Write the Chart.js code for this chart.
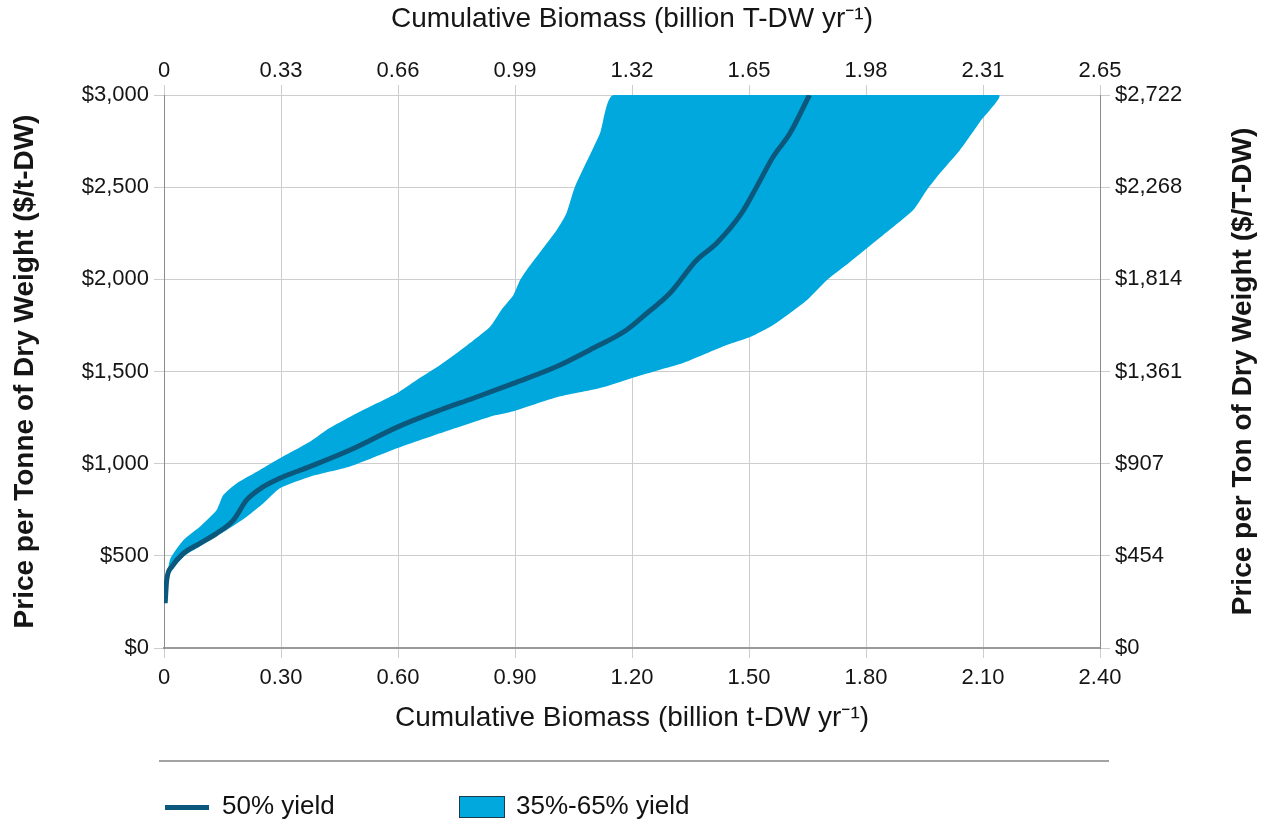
<!DOCTYPE html>
<html>
<head>
<meta charset="utf-8">
<script src="https://cdn.jsdelivr.net/npm/chart.js@4.4.1/dist/chart.umd.min.js"></script>
<style>
  html, body { margin: 0; padding: 0; background: #fff; }
  #wrap { position: relative; width: 1269px; height: 824px; }
  #chart { position: absolute; left: 0; top: 0; }
  .sep { position: absolute; left: 159px; top: 760px; width: 950px; border-top: 2px solid #a3a3a3; }
  .legend { position: absolute; top: 790px; height: 30px; line-height: 30px;
            font: 26px 'Liberation Sans', Arial, sans-serif; color: #111; white-space: nowrap; }
  .swatch-line { display: inline-block; width: 44px; height: 5px; background: #0c587c; vertical-align: middle; margin-right: 13px; }
  .swatch-box { display: inline-block; width: 44px; height: 20px; background: #00a8dd; border: 1px solid #1b3c4c; vertical-align: middle; margin-right: 11px; }
</style>
</head>
<body>
<div id="wrap">
  <canvas id="chart" width="1269" height="824"></canvas>
  <div class="sep"></div>
  <div class="legend" style="left:165px"><span class="swatch-line"></span>50% yield</div>
  <div class="legend" style="left:459px"><span class="swatch-box"></span>35%-65% yield</div>
</div>
<script>
// 50% yield curve (billion t-DW per year vs $/t-DW)
const biomass50 = [0.003, 0.007, 0.020, 0.050, 0.092, 0.135, 0.178, 0.212, 0.255, 0.297, 0.374, 0.477, 0.601, 0.708, 0.793, 0.896, 1.007, 1.092, 1.186, 1.238, 1.297, 1.366, 1.417, 1.481, 1.520, 1.562, 1.605, 1.655];
const price50   = [243, 369, 441, 514, 568, 622, 694, 803, 875, 921, 984, 1074, 1201, 1291, 1355, 1436, 1527, 1617, 1725, 1816, 1924, 2105, 2196, 2359, 2503, 2665, 2792, 3000];

// 35% yield edge of the band (left side)
const biomass35 = [0.003, 0.015, 0.050, 0.092, 0.135, 0.152, 0.186, 0.246, 0.297, 0.374, 0.417, 0.494, 0.597, 0.648, 0.708, 0.767, 0.836, 0.865, 0.896, 0.913, 0.930, 1.007, 1.032, 1.054, 1.118, 1.153];
const price35   = [243, 477, 586, 658, 749, 830, 893, 966, 1029, 1119, 1183, 1273, 1382, 1454, 1535, 1626, 1743, 1834, 1915, 1996, 2051, 2268, 2359, 2503, 2792, 3000];

// 65% yield edge of the band (right side)
const biomass65 = [0.003, 0.011, 0.050, 0.092, 0.161, 0.212, 0.255, 0.297, 0.374, 0.477, 0.597, 0.708, 0.836, 0.896, 1.007, 1.118, 1.200, 1.272, 1.331, 1.443, 1.503, 1.562, 1.649, 1.700, 1.759, 1.844, 1.921, 1.956, 1.990, 2.041, 2.092, 2.140];
const price65   = [243, 387, 495, 550, 640, 712, 785, 866, 929, 984, 1083, 1165, 1255, 1284, 1360, 1410, 1465, 1510, 1546, 1644, 1687, 1752, 1888, 1996, 2094, 2240, 2376, 2485, 2577, 2702, 2854, 3000];

const bottomTickLabels = ['0', '0.30', '0.60', '0.90', '1.20', '1.50', '1.80', '2.10', '2.40'];
const topTickLabels    = ['0', '0.33', '0.66', '0.99', '1.32', '1.65', '1.98', '2.31', '2.65'];
const leftTickLabels   = ['$0', '$500', '$1,000', '$1,500', '$2,000', '$2,500', '$3,000'];
const rightTickLabels  = ['$0', '$454', '$907', '$1,361', '$1,814', '$2,268', '$2,722'];

const toPoints = (xs, ys) => xs.map((x, i) => ({x: x, y: ys[i]}));
const linePoints = toPoints(biomass50, price50);
// band outline: up the 35% edge, back down the 65% edge
const bandPoints = toPoints(biomass35, price35).concat(toPoints(biomass65, price65).reverse());

const tickFont = {family: "'Liberation Sans', Arial, sans-serif", size: 22};
const titleFont = {family: "'Liberation Sans', Arial, sans-serif", size: 28};
const sideTitleFont = {family: "'Liberation Sans', Arial, sans-serif", size: 28, weight: 'bold'};
const ink = '#151515';
const gridGrey = '#cdcdcd';
const axisGrey = '#8c8c8c';

const rightTitle = {
    id: 'rightTitle',
    afterDraw(chart) {
        const {ctx, chartArea} = chart;
        ctx.save();
        ctx.translate(chart.width - 26, (chartArea.top + chartArea.bottom) / 2);
        ctx.rotate(-Math.PI / 2);
        ctx.font = 'bold 28px "Liberation Sans", Arial, sans-serif';
        ctx.fillStyle = ink;
        ctx.textAlign = 'center';
        ctx.textBaseline = 'middle';
        ctx.fillText('Price per Ton of Dry Weight ($/T-DW)', 0, 0);
        ctx.restore();
    }
};

new Chart(document.getElementById('chart').getContext('2d'), {
    type: 'line',
    data: {
        datasets: [{
            label: '50% yield',
            data: linePoints,
            borderColor: '#0c587c',
            borderWidth: 5,
            pointRadius: 0,
            cubicInterpolationMode: 'monotone',
            fill: false,
            order: 0
        }, {
            label: '35%-65% yield',
            data: bandPoints,
            borderWidth: 0,
            borderColor: 'rgba(0,0,0,0)',
            backgroundColor: '#00a8dd',
            pointRadius: 0,
            tension: 0.2,
            fill: 'shape',
            order: 1
        }]
    },
    options: {
        responsive: false,
        animation: false,
        events: [],
        layout: { padding: {left: 0, right: 0, top: 0, bottom: 86} },
        plugins: {
            legend: { display: false },
            tooltip: { enabled: false }
        },
        scales: {
            x: {
                type: 'linear', position: 'bottom', min: 0, max: 2.4,
                ticks: { stepSize: 0.3, autoSkip: false, maxRotation: 0, padding: 7, color: ink, font: tickFont,
                         callback: (v, i) => bottomTickLabels[i] },
                grid: { color: gridGrey, tickLength: 10 },
                border: { color: '#9b9b9b', width: 2 },
                title: { display: true, text: 'Cumulative Biomass (billion t-DW yr\u207B\u00B9)', color: ink, font: titleFont,
                         padding: {top: 0, bottom: 3} },
                afterFit(scale) { scale.height = 90; }
            },
            x2: {
                type: 'linear', position: 'top', min: 0, max: 2.4,
                ticks: { stepSize: 0.3, autoSkip: false, maxRotation: 0, padding: 1, color: ink, font: tickFont,
                         callback: (v, i) => topTickLabels[i] },
                grid: { drawOnChartArea: false, color: gridGrey, tickLength: 10 },
                border: { color: gridGrey },
                title: { display: true, text: 'Cumulative Biomass (billion T-DW yr\u207B\u00B9)', color: ink, font: titleFont,
                         padding: {top: 2, bottom: 0} },
                afterFit(scale) { scale.height = 95; }
            },
            y: {
                position: 'left', min: 0, max: 3000,
                ticks: { stepSize: 500, padding: 5, color: ink, font: tickFont,
                         callback: (v, i) => leftTickLabels[i] },
                grid: { color: gridGrey, tickLength: 10 },
                border: { color: axisGrey },
                title: { display: true, text: 'Price per Tonne of Dry Weight ($/t-DW)', color: ink, font: sideTitleFont,
                         padding: {top: 8, bottom: 0} },
                afterFit(scale) { scale.width = 164; }
            },
            y2: {
                position: 'right', min: 0, max: 3000,
                ticks: { stepSize: 500, padding: 5, color: ink, font: tickFont,
                         callback: (v, i) => rightTickLabels[i] },
                grid: { drawOnChartArea: false, color: gridGrey, tickLength: 10 },
                border: { color: axisGrey },
                afterFit(scale) { scale.width = 169; }
            }
        }
    },
    plugins: [rightTitle]
});
</script>
</body>
</html>
